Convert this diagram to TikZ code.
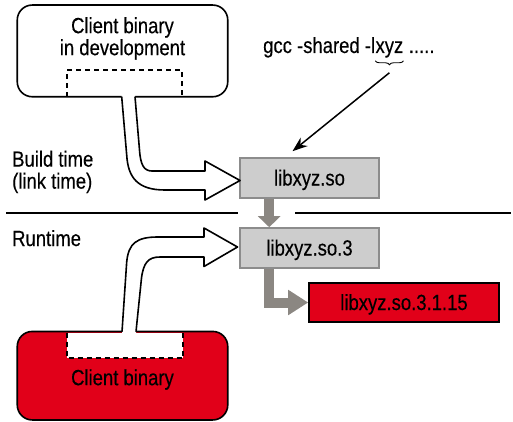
\documentclass[tikz,border=0pt]{standalone}
\usepackage{fontspec}
\setmainfont{Liberation Sans}[FakeStretch=0.84, FakeBold=0.3]
\usetikzlibrary{arrows.meta,decorations.pathreplacing}
\definecolor{libGray}{HTML}{CDCDCD}
\definecolor{libGrayEdge}{HTML}{8C8C8C}
\definecolor{libArrowGray}{HTML}{8B8782}
\definecolor{libRed}{HTML}{E10019}
\newcommand{\linkarrow}{(121.7,96.7) -- (126.7,155) .. controls (128,178) and (138,190) .. (165,190) -- (205,190) -- (205,200) -- (240,180.5) -- (205,161) -- (205,171) -- (152,171) .. controls (144,171) and (140.5,165) .. (139.5,150) -- (135,96.7)}
\newcommand{\loadarrow}{(122,331.7) -- (126.7,262) .. controls (128.5,243) and (137,237) .. (158,237) -- (204,237) -- (204,228) -- (237.5,247) -- (204,266.5) -- (204,257) -- (160,257) .. controls (148,257) and (143.5,263) .. (141.5,278) -- (136,331.7)}

\begin{document}
\begin{tikzpicture}[x=1pt, y=-1pt, font=\fontsize{22}{22}\selectfont,
    libbox/.style={draw=libGrayEdge, fill=libGray, line width=1.6pt, minimum width=139pt, minimum height=40pt, inner sep=0pt, text height=15pt, text depth=0pt},
    binbox/.style={draw, line width=1.6pt, rounded corners=15pt, minimum width=210.5pt, inner sep=0pt},
    slot/.style={line width=1.3pt, dash pattern=on 5pt off 4pt},
    blockarrow/.style={line width=1.6pt, line join=round},
    grayarrow/.style={draw=libArrowGray, line width=10pt}]
    \useasboundingbox (0,0) rectangle (513,422);
    \node[binbox, minimum height=91.7pt] (devbin) at (122.5,50.9) {};
    \node[align=center, inner sep=0pt] (devlabel) at (122.5,38.5) {Client binary\\in development};
    \node[binbox, fill=libRed, minimum height=88.5pt, text height=19pt, text depth=0pt] (runbin) at (122.5,375.7) {Client binary};
    \node[libbox] (so) at (309.5,178) {libxyz.so};
    \node[libbox] (so3) at (309.5,248) {libxyz.so.3};
    \node[libbox, fill=libRed, draw=black, minimum width=190pt, minimum height=39pt] (full) at (404,302.5) {libxyz.so.3.1.15};
    \node[anchor=north west, align=left, inner sep=0pt] (buildlabel) at (12,150.5) {Build time\\(link time)};
    \node[anchor=base west, inner sep=0pt] (runlabel) at (12,246) {Runtime};
    \node[anchor=base west, inner sep=0pt] (gcc) at (263,53) {gcc -shared -l};
    \node[anchor=base west, inner sep=0pt] (xyz) at (gcc.base east) {xyz};
    \node[anchor=base west, inner sep=0pt] (dots) at (xyz.base east) {\ .....};
    \draw[decorate, decoration={brace, mirror, amplitude=4pt}, line width=0.9pt] ([yshift=-3pt]xyz.south west) -- ([yshift=-3pt]xyz.south east);
    \draw[-{Stealth[length=15pt,width=11pt]}, line width=1.5pt] ([yshift=-15pt]xyz.south) -- ([xshift=-17pt,yshift=6pt]so.north);
    \draw[grayarrow, -{Triangle[width=22pt,length=11pt]}] ([xshift=30pt]so.south west) -- ([xshift=30pt]so3.north west);
    \draw[grayarrow, -{Triangle[width=24pt,length=20pt]}] ([xshift=30pt]so3.south west) |- (full.west);
    \draw[line width=2pt] (6,213) -- (238,213) (295,213) -- (511,213);
    \draw[slot] (67,96.7) -- (67,70) -- (182,70) -- (182,96.7);
    \fill[white] (67,332.5) rectangle (183,358);
    \draw[slot] (67,332.5) -- (67,358) -- (183,358) -- (183,332.5);
    \fill[white] (121.7,94) -- \linkarrow -- (135,94) -- cycle;
    \draw[blockarrow] \linkarrow;
    \fill[white] (122,334.5) -- \loadarrow -- (136,334.5) -- cycle;
    \draw[blockarrow] \loadarrow;
\end{tikzpicture}
\end{document}
